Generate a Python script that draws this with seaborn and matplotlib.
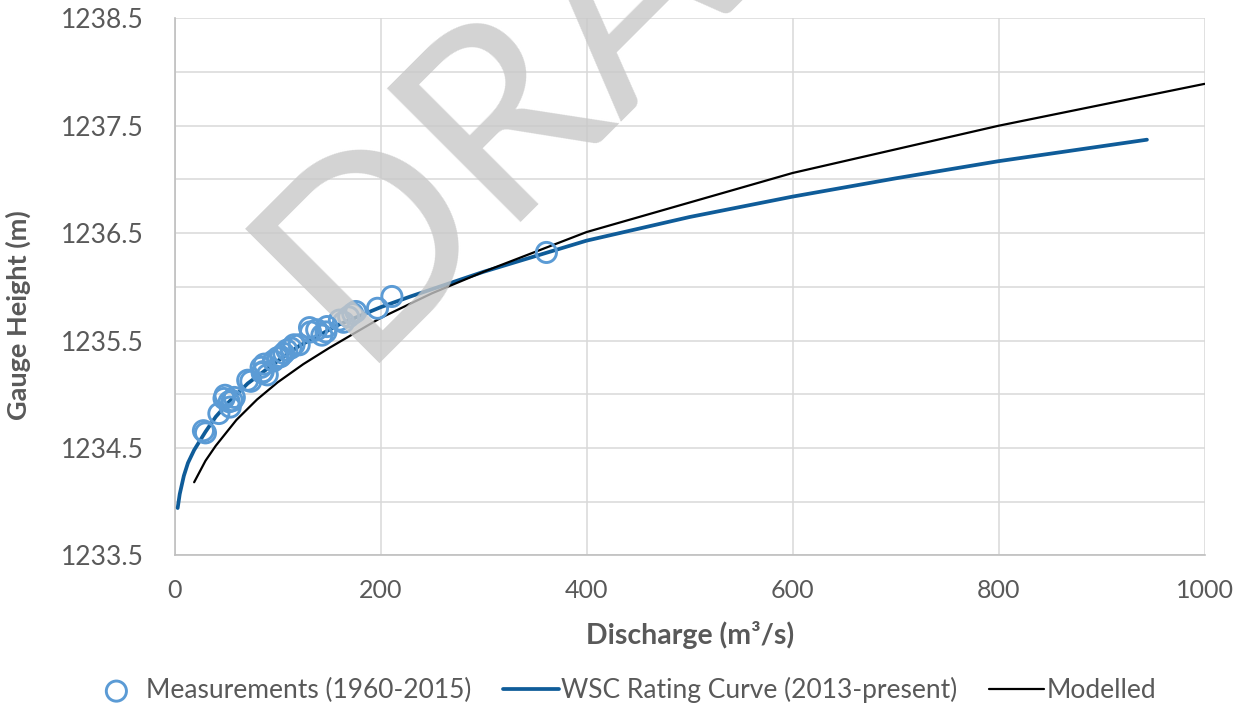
import numpy as np
import pandas as pd
import matplotlib
matplotlib.use('Agg')
import matplotlib.pyplot as plt
import seaborn as sns
from matplotlib.ticker import MultipleLocator, FormatStrFormatter

meas_q = [28, 30, 43, 48, 49, 53, 56, 58, 54, 71, 74, 84, 85, 87, 86, 90,
          96, 100, 103, 106, 109, 113, 116, 121, 131, 132, 138, 143, 147, 148,
          160, 164, 169, 173, 176, 197, 211, 361]
meas_h = [1234.66, 1234.64, 1234.82, 1234.96, 1234.99, 1234.93, 1234.94, 1234.97,
          1234.88, 1235.13, 1235.12, 1235.25, 1235.20, 1235.28, 1235.21, 1235.18,
          1235.31, 1235.34, 1235.35, 1235.38, 1235.41, 1235.43, 1235.46, 1235.46,
          1235.62, 1235.58, 1235.60, 1235.55, 1235.58, 1235.63, 1235.69, 1235.67,
          1235.72, 1235.75, 1235.77, 1235.80, 1235.91, 1236.32]

# WSC rating curve
wsc_q = [3, 5, 9, 13, 19, 30, 40, 53, 71, 103, 121, 160, 200, 229, 300, 400,
         500, 600, 700, 800, 944]
wsc_h = [1233.94, 1234.07, 1234.24, 1234.36, 1234.48, 1234.65, 1234.79, 1234.93,
         1235.10, 1235.33, 1235.45, 1235.65, 1235.81, 1235.91, 1236.14, 1236.43,
         1236.65, 1236.84, 1237.01, 1237.17, 1237.37]

# modelled curve
mod_q = [19, 30, 40, 50, 60, 80, 100, 125, 150, 200, 250, 300, 400, 600, 800, 1000]
mod_h = [1234.18, 1234.38, 1234.52, 1234.64, 1234.76, 1234.95, 1235.11, 1235.28,
         1235.43, 1235.71, 1235.94, 1236.14, 1236.51, 1237.06, 1237.50, 1237.89]

sns.set_style('white')
plt.rcParams['font.family'] = ['Lato', 'DejaVu Sans']

grey_txt = '#595959'
fig, ax = plt.subplots(figsize=(12.47, 7.06), dpi=100)
fig.subplots_adjust(left=0.140, right=0.966, top=0.974, bottom=0.2135)

sns.lineplot(x=wsc_q, y=wsc_h, ax=ax, color='#0F5C99', linewidth=2.7,
             label='WSC Rating Curve (2013-present)', estimator=None, zorder=3)
sns.lineplot(x=mod_q, y=mod_h, ax=ax, color='black', linewidth=1.6,
             label='Modelled', estimator=None, zorder=3)
sns.scatterplot(x=meas_q, y=meas_h, ax=ax, s=210, facecolors='none',
                edgecolor='#5B9BD5', linewidth=2.1, marker='o',
                label='Measurements (1960-2015)', zorder=4)

ax.set_xlim(0, 1000)
ax.set_ylim(1233.5, 1238.5)
ax.xaxis.set_major_locator(MultipleLocator(200))
ax.set_yticks(np.arange(1233.5, 1238.6, 1.0))
ax.yaxis.set_minor_locator(MultipleLocator(0.5))
ax.grid(True, which='both', color='#D9D9D9', linewidth=1.1)
ax.set_axisbelow(True)
ax.tick_params(which='both', length=0, colors=grey_txt)
ax.tick_params(axis='x', labelsize=18, pad=17)
ax.tick_params(axis='y', labelsize=19, pad=22)
ax.yaxis.set_major_formatter(FormatStrFormatter('%.1f'))

for s in ['top', 'right']:
    ax.spines[s].set_visible(False)
for s in ['left', 'bottom']:
    ax.spines[s].set_color('#BFBFBF')
    ax.spines[s].set_linewidth(1.2)

ax.set_xlabel('Discharge (m³/s)', fontsize=20.5, fontweight='bold', color=grey_txt, labelpad=14)
ax.set_ylabel('Gauge Height (m)', fontsize=19.5, fontweight='bold', color=grey_txt)
ax.yaxis.set_label_coords(-0.139, 0.447)

# legend below the chart
handles, labels = ax.get_legend_handles_labels()
order = [2, 0, 1]
ax.get_legend().remove()
leg = fig.legend([handles[i] for i in order], [labels[i] for i in order],
                 loc='center', bbox_to_anchor=(0.499, 0.0227), ncol=3,
                 frameon=False, fontsize=19, handlelength=2.1, handletextpad=0.08,
                 columnspacing=1.2)
for t in leg.get_texts():
    t.set_color(grey_txt)

# watermark
fig.text(0.4836, 0.987, 'DRAFT', fontsize=190, color='#c8c8c8', alpha=0.8,
         rotation=45, ha='center', va='center', family='Lato', zorder=10)

fig.savefig('out.png', dpi=100)
